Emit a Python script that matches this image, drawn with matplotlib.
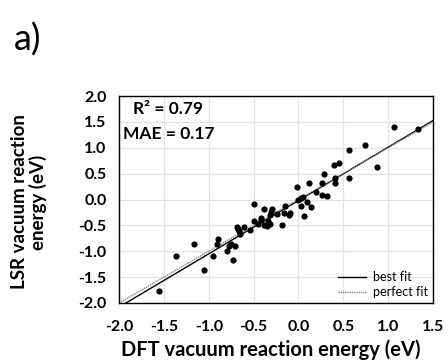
import matplotlib
matplotlib.use("Agg")
import matplotlib.pyplot as plt
import numpy as np

# DFT vs LSR vacuum reaction energies (eV)
dft = [-1.55, -1.37, -1.16, -1.05, -0.95, -0.90, -0.91, -0.80, -0.73, -0.77,
       -0.75, -0.71, -0.68, -0.66, -0.65, -0.67, -0.61, -0.54, -0.50, -0.50,
       -0.45, -0.42, -0.42, -0.38, -0.38, -0.35, -0.34, -0.32, -0.31, -0.29,
       -0.32, -0.24, -0.18, -0.15, -0.16, -0.10, -0.09, -0.02, -0.01, 0.03,
       0.05, 0.03, 0.06, 0.09, 0.14, 0.12, 0.20, 0.26, 0.32, 0.28,
       0.26, 0.40, 0.45, 0.41, 0.41, 0.56, 0.56, 0.74, 0.88, 1.07, 1.33]
lsr = [-1.77, -1.10, -0.86, -1.36, -1.10, -0.76, -0.86, -1.00, -1.17, -0.89,
       -0.86, -0.90, -0.54, -0.61, -0.66, -0.57, -0.53, -0.59, -0.09, -0.42,
       -0.47, -0.36, -0.39, -0.18, -0.50, -0.52, -0.42, -0.47, -0.24, -0.18,
       -0.30, -0.28, -0.49, -0.12, -0.27, -0.29, -0.27, 0.24, 0.00, 0.03,
       0.04, -0.13, -0.31, -0.04, -0.15, 0.31, 0.15, 0.08, 0.06, 0.49,
       0.31, 0.67, 0.70, 0.41, 0.32, 0.41, 0.96, 1.05, 0.63, 1.41, 1.36]

fit_slope = 1.03
fit_intercept = -0.02
r2_text = "R² = 0.79"
mae_text = "MAE = 0.17"

ticks = [-2.0, -1.5, -1.0, -0.5, 0.0, 0.5, 1.0, 1.5]
yticks = [-2.0, -1.5, -1.0, -0.5, 0.0, 0.5, 1.0, 1.5, 2.0]

plt.rcParams['font.family'] = ['Lato', 'DejaVu Sans']

fig = plt.figure(figsize=(4.48, 3.64), dpi=100)
ax = fig.add_axes([119 / 448, 1 - 303 / 364, 314 / 448, 207 / 364])

xl = np.array([-2.0, 1.5])
ax.plot(xl, fit_slope * xl + fit_intercept, color='black', lw=1.0, label='best fit')
ax.plot(xl, xl, color='#888888', lw=1.0, ls=(0, (1, 0.6)), label='perfect fit')
ax.scatter(dft, lsr, s=20, color='black', zorder=3, linewidths=0)

ax.set_xlim(-2.0, 1.5)
ax.set_ylim(-2.0, 2.0)
ax.set_xticks(ticks)
ax.set_yticks(yticks)
ax.set_xticklabels([f"{t:.1f}" for t in ticks], fontweight='bold', fontsize=11.5)
ax.set_yticklabels([f"{t:.1f}" for t in yticks], fontweight='bold', fontsize=11.5)
ax.tick_params(axis='x', length=0, pad=12)
ax.tick_params(axis='y', length=0, pad=9)
ax.grid(True, color='#e2e2e2', lw=0.9)
ax.set_axisbelow(True)
for sp in ax.spines.values():
    sp.set_color('black')
    sp.set_linewidth(1.0)

ax.text(0.045, 0.935, r2_text, transform=ax.transAxes, fontsize=12.5,
        fontweight='bold', va='center', ha='left')
ax.text(0.012, 0.815, mae_text, transform=ax.transAxes, fontsize=12.5,
        fontweight='bold', va='center', ha='left')

ax.legend(loc='lower right', frameon=False, fontsize=9, handlelength=2.2,
          handletextpad=0.6, labelspacing=0.25, borderaxespad=0.0,
          bbox_to_anchor=(1.0, 0.0))

fig.text(271 / 448, 1 - 350 / 364, "DFT vacuum reaction energy (eV)",
         fontsize=14.5, fontweight='bold', ha='center', va='center')
fig.text(29 / 448, 1 - 202 / 364, "LSR vacuum reaction\nenergy (eV)",
         fontsize=13.5, fontweight='bold', ha='center', va='center',
         rotation=90, linespacing=1.0)
fig.text(14 / 448, 1 - 40 / 364, "a)", fontsize=26, ha='left', va='center')

fig.savefig("out.png", dpi=100)
